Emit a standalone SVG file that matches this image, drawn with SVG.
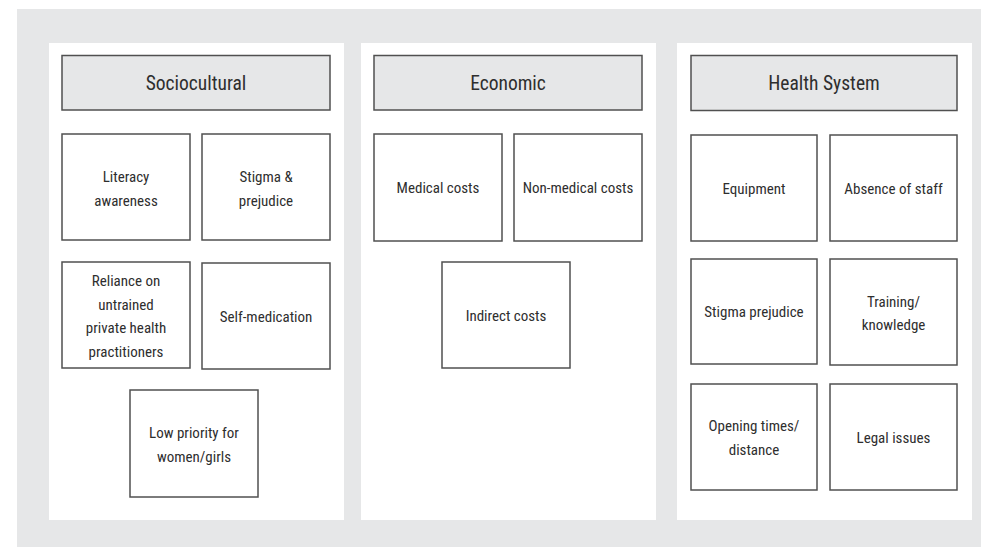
<svg xmlns="http://www.w3.org/2000/svg" width="981" height="547" viewBox="0 0 981 547">
<style>
.bg{fill:#e6e7e8}
.panel{fill:#ffffff}
.head rect{fill:#e6e7e8;stroke:#505050;stroke-width:1.5}
.box rect{fill:#ffffff;stroke:#505050;stroke-width:1.5}
text{font-family:"Liberation Sans Narrow","Roboto Condensed","Liberation Sans",Arial,sans-serif;fill:#2e2e2e;text-anchor:middle}
.head text{font-size:19.5px}
.box text{font-size:15px}
</style>
<rect class="bg" x="17" y="9" width="964" height="538"/>
<rect class="panel" x="49" y="43" width="295" height="477"/>
<rect class="panel" x="361" y="43" width="295" height="477"/>
<rect class="panel" x="677" y="43" width="295" height="477"/>

<g id="sociocultural" class="head"><rect x="62" y="55.5" width="268" height="54.5"/><text x="196" y="90">Sociocultural</text></g>
<g id="literacy" class="box"><rect x="62" y="134" width="128" height="106"/><text x="126" y="182">Literacy</text><text x="126" y="205.5">awareness</text></g>
<g id="stigma1" class="box"><rect x="202" y="134" width="128" height="106"/><text x="266" y="182">Stigma &amp;</text><text x="266" y="205.5">prejudice</text></g>
<g id="reliance" class="box"><rect x="62" y="262" width="128" height="106"/><text x="126" y="286">Reliance on</text><text x="126" y="309.5">untrained</text><text x="126" y="333">private health</text><text x="126" y="356.5">practitioners</text></g>
<g id="selfmed" class="box"><rect x="202" y="263" width="128" height="106"/><text x="266" y="321.5">Self-medication</text></g>
<g id="lowpriority" class="box"><rect x="130" y="390" width="128" height="107"/><text x="194" y="438">Low priority for</text><text x="194" y="461.5">women/girls</text></g>

<g id="economic" class="head"><rect x="374" y="55.5" width="268" height="54.5"/><text x="508" y="90">Economic</text></g>
<g id="medical" class="box"><rect x="374" y="134" width="128" height="107"/><text x="438" y="193">Medical costs</text></g>
<g id="nonmedical" class="box"><rect x="514" y="134" width="128" height="107"/><text x="578" y="193">Non-medical costs</text></g>
<g id="indirect" class="box"><rect x="442" y="262" width="128" height="106"/><text x="506" y="320.5">Indirect costs</text></g>

<g id="healthsystem" class="head"><rect x="691" y="55.5" width="266" height="55"/><text x="824" y="90">Health System</text></g>
<g id="equipment" class="box"><rect x="691" y="135" width="126" height="106"/><text x="754" y="193.5">Equipment</text></g>
<g id="absence" class="box"><rect x="830" y="135" width="127" height="106"/><text x="893.5" y="193.5">Absence of staff</text></g>
<g id="stigma2" class="box"><rect x="691" y="259" width="126" height="105"/><text x="754" y="317">Stigma prejudice</text></g>
<g id="training" class="box"><rect x="830" y="259" width="127" height="106"/><text x="893.5" y="306.5">Training/</text><text x="893.5" y="330">knowledge</text></g>
<g id="opening" class="box"><rect x="691" y="384" width="126" height="106"/><text x="754" y="431.3">Opening times/</text><text x="754" y="454.8">distance</text></g>
<g id="legal" class="box"><rect x="830" y="384" width="127" height="106"/><text x="893.5" y="442.5">Legal issues</text></g>
<g id="connectors"></g>
</svg>
